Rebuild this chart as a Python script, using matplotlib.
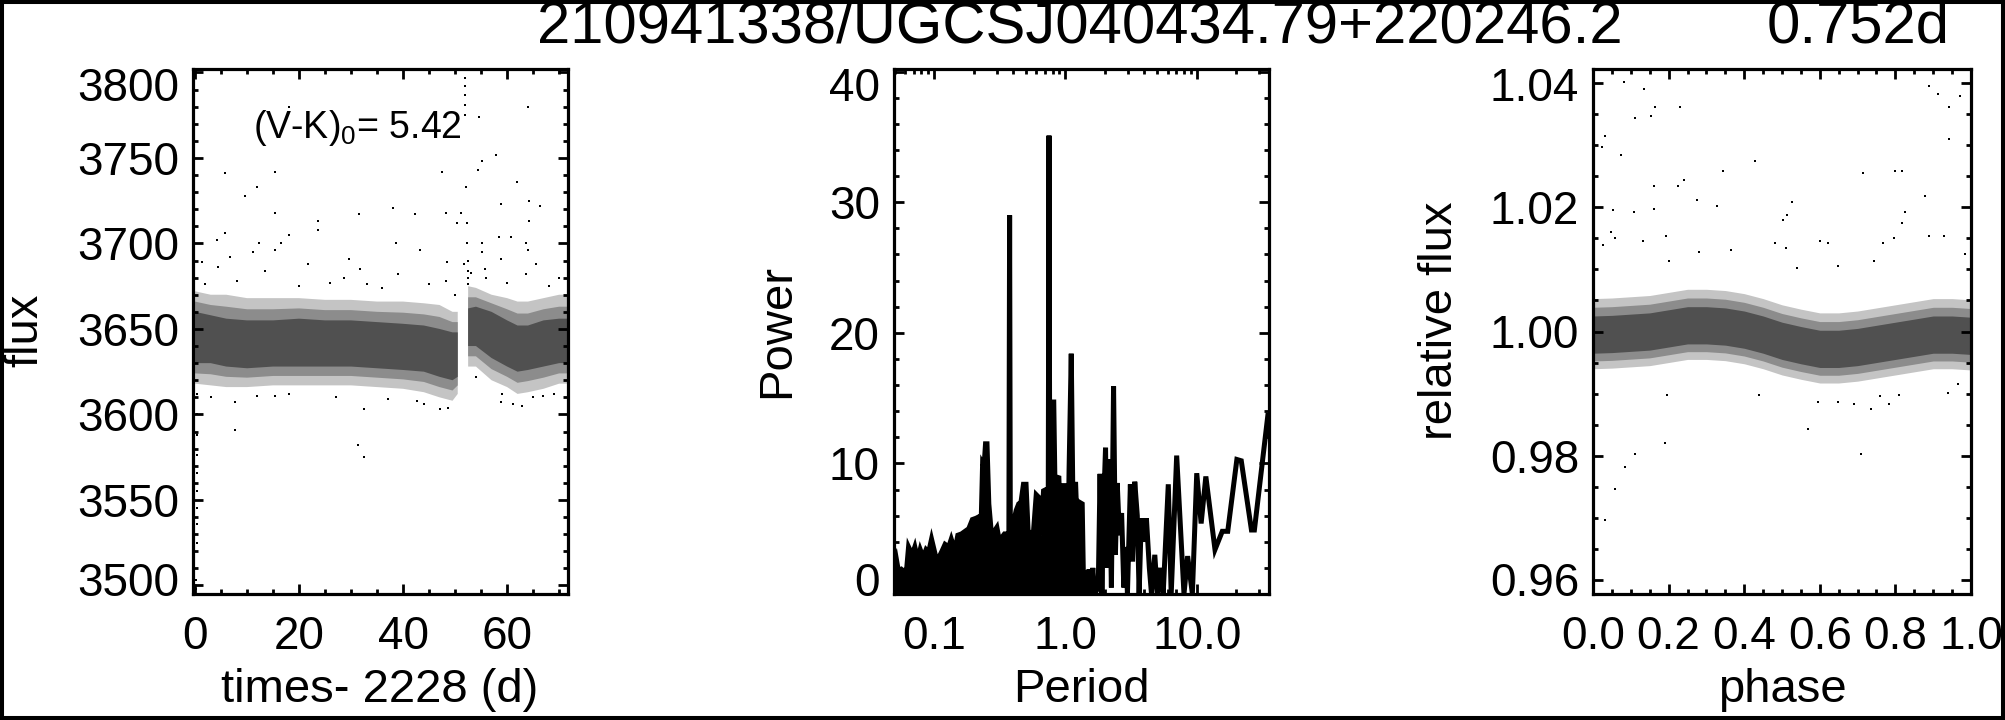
import numpy as np
import matplotlib
matplotlib.use("Agg")
import matplotlib.pyplot as plt
from matplotlib.ticker import MultipleLocator, FixedLocator, FixedFormatter, LogLocator, NullFormatter
from matplotlib.patches import Rectangle

plt.rcParams['font.family'] = ['Liberation Sans', 'DejaVu Sans']
plt.rcParams['mathtext.fontset'] = 'custom'
plt.rcParams['mathtext.rm'] = 'Liberation Sans'
plt.rcParams['mathtext.it'] = 'Liberation Sans'

# ---------------- text ----------------
title_id = "210941338/UGCSJ040434.79+220246.2"
title_period = "0.752d"
color_index_text = "(V-K)$_0$= 5.42"

# ---------------- left panel: light curve ----------------
nan = np.nan
t_band = [0.0, 3, 6, 10, 15, 20, 25, 30, 35, 40, 44, 47, 49.5, 50.5, 51.5, 52.5, 54, 57, 60, 62, 64, 67, 70, 71.7]
core_hi = [3660, 3658, 3656, 3655, 3655, 3656, 3655, 3655, 3654, 3653, 3652, 3650, 3648, 3648, nan, 3662, 3663, 3660, 3655, 3652, 3652, 3655, 3656, 3656]
core_lo = [3630, 3630, 3628, 3627, 3628, 3628, 3628, 3628, 3627, 3626, 3625, 3622, 3620, 3622, nan, 3640, 3640, 3633, 3628, 3625, 3626, 3628, 3630, 3630]
outer_hi = [3672, 3670, 3670, 3668, 3668, 3668, 3667, 3667, 3666, 3666, 3665, 3664, 3660, 3660, nan, 3675, 3674, 3670, 3668, 3666, 3666, 3668, 3670, 3670]
outer_lo = [3618, 3617, 3616, 3616, 3617, 3617, 3617, 3617, 3616, 3615, 3613, 3610, 3608, 3612, nan, 3628, 3628, 3620, 3616, 3612, 3613, 3615, 3618, 3618]

t_pts = [18.1, 54.5, 64.1, 5.8, 15.4, 11.9, 9.6, 57.9, 55.2, 54.4, 47.5, 61.9, 64.2, 66.3, 58.9, 15.4, 38.1, 31.5,
         42.3, 48.3, 51.2, 50.4, 64.2, 23.6, 23.6, 18.1, 5.8, 4.3, 6.7, 12.3, 15.4, 16.6, 38.7, 43.3, 55.2, 55.2,
         58.5, 60.8, 63.7, 64.1, 65.6, 48.5, 58.9, 29.6, 21.7, 1.3, 4.4, 11.2, 13.5, 39.0, 51.7, 55.8, 31.7, 63.7,
         28.6, 48.3,
         58.9, 61.2, 62.9, 66.9, 15.4, 7.7, 7.7, 32.4, 42.7, 31.3, 32.4,
         51.9, 51.9, 51.9, 51.9, 51.9, 51.9, 52.0, 52.2, 52.3, 52.4, 52.4, 52.5, 52.5,
         0.3, 0.3, 0.3, 0.3, 0.3, 0.3, 0.3, 0.3, 0.3, 0.2, 0.2,
         2, 8, 20, 26, 33, 36, 45, 50, 53, 56, 60, 68, 70,
         3, 12, 18, 27, 37, 44, 47, 48.7, 54, 59, 65, 69]
f_pts = [3780, 3774, 3780, 3741, 3742, 3733, 3728, 3752, 3748, 3743, 3742, 3736, 3725, 3722, 3723, 3718, 3721, 3717,
         3717, 3718, 3718, 3712, 3713, 3713, 3708, 3705, 3706, 3702, 3692, 3700, 3696, 3700, 3700, 3696, 3700, 3695,
         3704, 3704, 3700, 3696, 3688, 3689, 3691, 3691, 3688, 3689, 3686, 3695, 3684, 3682, 3688, 3685, 3685, 3682,
         3680, 3678,
         3607, 3606, 3605, 3611, 3611, 3607, 3591, 3603, 3608, 3582, 3575,
         3802, 3797, 3792, 3787, 3781, 3775, 3733, 3712, 3700, 3690, 3684, 3680, 3676,
         3612, 3600, 3588, 3576, 3566, 3555, 3545, 3536, 3525, 3503, 3498,
         3676, 3678, 3675, 3677, 3676, 3674, 3676, 3670, 3683, 3680, 3677, 3675, 3680,
         3610, 3611, 3612, 3610, 3609, 3606, 3603, 3604, 3622, 3612, 3610, 3612]

# ---------------- middle panel: periodogram ----------------
period = [0.0495, 0.0511, 0.0534, 0.0562, 0.0592, 0.0619, 0.0639, 0.0681, 0.0713, 0.0750, 0.0784, 0.0825,
          0.0869, 0.0909, 0.0956, 0.1032, 0.1101, 0.1151, 0.1212, 0.1292, 0.1351, 0.1440, 0.1516, 0.1616,
          0.1722, 0.1836, 0.1957, 0.2087, 0.2183, 0.2268, 0.2341, 0.2402, 0.2464, 0.2528, 0.2610, 0.2748,
          0.2873, 0.3005, 0.3122, 0.3265, 0.3436, 0.3594, 0.3710, 0.3758, 0.3806, 0.3905, 0.4032, 0.4217,
          0.4410, 0.4582, 0.4792, 0.5012, 0.5208, 0.5446, 0.5695, 0.5995, 0.6269, 0.6515, 0.6813, 0.7124,
          0.7403, 0.7499, 0.7595, 0.7743, 0.8149, 0.8306, 0.8913, 0.9261, 0.9563, 1.0129, 1.0392, 1.0661,
          1.1076, 1.1364, 1.1962, 1.2349,
          1.259, 1.291, 1.342, 1.377, 1.421, 1.468, 1.516, 1.565, 1.616, 1.668, 1.778, 1.836, 1.896, 1.957,
          2.021, 2.073, 2.154, 2.239, 2.326, 2.402, 2.480, 2.577, 2.678, 2.783, 2.873, 2.966, 3.123, 3.245,
          3.372, 3.526, 3.641, 3.782, 3.955, 4.137, 4.355, 4.524, 4.792, 5.012, 5.275, 5.551, 6.072, 6.390,
          7.033, 7.995, 8.523, 9.261, 10.0, 10.80, 11.73, 13.77, 15.65, 17.22, 20.21, 21.83, 26.10, 27.48,
          34.81]
power = [2.6, 2.9, 1.8, 1.9, 1.7, 2.0, 3.6, 3.0, 3.6, 2.6, 3.4, 2.8,
         3.4, 3.2, 4.2, 2.8, 2.9, 3.3, 3.8, 3.6, 4.2, 3.3, 4.5, 4.6,
         4.8, 5.0, 5.7, 5.8, 5.9, 4.4, 10.0, 9.8, 11.5, 11.5, 6.9, 4.3,
         4.8, 5.1, 4.2, 4.3, 4.6, 4.6, 4.5, 29.0, 4.5, 1.5, 5.5, 6.4,
         6.9, 7.0, 8.4, 8.4, 4.6, 4.7, 4.6, 7.6, 7.4, 4.5, 7.9, 8.0,
         8.0, 35.1, 8.0, 14.7, 14.7, 9.0, 8.9, 4.0, 8.3, 8.3, 1.0, 9.5,
         18.4, 8.4, 8.4, 4.4,
         0.0, 7.0, 6.9, 0.0, 1.8, 0.0, 1.9, 0.0, 2.0, 0.0, 0.5, 9.2, 0.0, 7.0,
         11.2, 2.0, 10.3, 0.5, 15.9, 3.0, 8.5, 4.5, 6.2, 0.5, 3.6, 0.0, 8.4, 2.5,
         8.6, 6.0, 0.0, 5.8, 4.0, 5.8, 2.0, 0.0, 3.0, 0.0, 2.0, 0.0, 8.4, 0.0,
         10.6, 0.0, 2.9, 0.0, 9.25, 5.4, 9.0, 3.4, 4.8, 4.8, 10.3, 10.2, 4.9, 4.9,
         13.7]
dense_limit = 1.235  # periods below this are unresolved (drawn filled)

# ---------------- right panel: phased light curve ----------------
phase_band = [0.0, 0.05, 0.1, 0.15, 0.2, 0.25, 0.3, 0.35, 0.4, 0.45, 0.5, 0.55, 0.6, 0.65, 0.7, 0.75, 0.8, 0.85, 0.9, 0.95, 1.0]
rcore_hi = [1.0025, 1.0026, 1.0028, 1.0030, 1.0035, 1.0040, 1.0040, 1.0038, 1.0033, 1.0025, 1.0015, 1.0008, 1.0002, 1.0002, 1.0005, 1.0010, 1.0015, 1.0020, 1.0025, 1.0025, 1.0023]
rcore_lo = [0.9965, 0.9966, 0.9968, 0.9970, 0.9975, 0.9980, 0.9980, 0.9978, 0.9973, 0.9965, 0.9955, 0.9948, 0.9942, 0.9942, 0.9945, 0.9950, 0.9955, 0.9960, 0.9965, 0.9965, 0.9963]
router_hi = [1.0053, 1.0054, 1.0056, 1.0058, 1.0063, 1.0068, 1.0068, 1.0066, 1.0061, 1.0053, 1.0043, 1.0036, 1.0030, 1.0030, 1.0033, 1.0038, 1.0043, 1.0048, 1.0053, 1.0053, 1.0051]
router_lo = [0.9940, 0.9941, 0.9943, 0.9945, 0.9950, 0.9955, 0.9955, 0.9953, 0.9948, 0.9940, 0.9930, 0.9923, 0.9917, 0.9917, 0.9920, 0.9925, 0.9930, 0.9935, 0.9940, 0.9940, 0.9938]

phase_pts = [0.032, 0.025, 0.082, 0.074, 0.111, 0.154, 0.135, 0.164, 0.230, 0.241, 0.225, 0.161, 0.161, 0.108,
             0.053, 0.344, 0.328, 0.275, 0.428, 0.527, 0.512, 0.502, 0.715, 0.799, 0.817, 0.878, 0.817, 0.826,
             0.889, 0.912, 0.971, 0.942, 0.942, 0.889, 0.929, 0.984, 0.027, 0.047, 0.058, 0.131, 0.193, 0.601,
             0.623, 0.767, 0.796, 0.511, 0.481, 0.365, 0.280, 0.201, 0.744, 0.648, 0.539,
             0.032, 0.058, 0.085, 0.111, 0.190, 0.569, 0.709, 0.196, 0.439, 0.595, 0.648, 0.690, 0.735, 0.783,
             0.759, 0.939, 0.810, 0.966]
rflux_pts = [1.0315, 1.0298, 1.0402, 1.0284, 1.0344, 1.0347, 1.0390, 1.0361, 1.0361, 1.0244, 1.0235, 1.0235,
             1.0198, 1.0193, 1.0195, 1.0258, 1.0203, 1.0212, 1.0274, 1.0208, 1.0188, 1.0180, 1.0255, 1.0258,
             1.0258, 1.0218, 1.0175, 1.0193, 1.0396, 1.0382, 1.0380, 1.0361, 1.0310, 1.0154, 1.0154, 1.0125,
             1.0140, 1.0160, 1.0150, 1.0146, 1.0154, 1.0146, 1.0143, 1.0143, 1.0150, 1.0134, 1.0143, 1.0131,
             1.0128, 1.0114, 1.0114, 1.0106, 1.0103,
             0.9697, 0.9747, 0.9781, 0.9803, 0.9820, 0.9843, 0.9802, 0.9898, 0.9898, 0.9886, 0.9886, 0.9883,
             0.9875, 0.9883, 0.9896, 0.9901, 0.9898, 0.9916]

# tick values / labels
left_yticks = [3500, 3550, 3600, 3650, 3700, 3750, 3800]
mid_yticks = [0, 10, 20, 30, 40]
right_yticks = [0.96, 0.98, 1.00, 1.02, 1.04]

# ---------------- figure ----------------
W, H = 2005, 720
fig = plt.figure(figsize=(W / 100, H / 100), dpi=100)
fig.patch.set_facecolor('white')

TICK_FS = 33
LAB_FS = 34

def box(x0, x1, y_top=69, y_bot=594):
    return [x0 / W, 1 - y_bot / H, (x1 - x0) / W, (y_bot - y_top) / H]

ax1 = fig.add_axes(box(193, 568))
ax2 = fig.add_axes(box(894, 1269))
ax3 = fig.add_axes(box(1593, 1971))

for ax in (ax1, ax2, ax3):
    for s in ax.spines.values():
        s.set_linewidth(2.3)
    ax.tick_params(which='both', direction='in', top=True, right=True, width=2.0,
                   labelsize=TICK_FS, colors='black', labelleft=False)
    ax.tick_params(which='major', length=7.5)
    ax.tick_params(which='minor', length=3.8)
    ax.tick_params(axis='x', pad=15)

dot = dict(ls='none', marker='s', ms=2.0, mew=0, color='black')
GREY_OUT = '#c4c4c4'
GREY_MID = '#8c8c8c'
GREY_CORE = '#505050'

def banded(ax, x, lo_out, hi_out, lo_core, hi_core):
    lo_out, hi_out = np.array(lo_out, float), np.array(hi_out, float)
    lo_core, hi_core = np.array(lo_core, float), np.array(hi_core, float)
    ax.fill_between(x, lo_out, hi_out, color=GREY_OUT, lw=0)
    ax.fill_between(x, (lo_out + lo_core) / 2, (hi_out + hi_core) / 2, color=GREY_MID, lw=0)
    ax.fill_between(x, lo_core, hi_core, color=GREY_CORE, lw=0)

# left
banded(ax1, t_band, outer_lo, outer_hi, core_lo, core_hi)
ax1.plot(t_pts, f_pts, **dot)
ax1.set_xlim(-0.4, 71.7)
ax1.set_ylim(3495, 3802)
ax1.xaxis.set_major_locator(MultipleLocator(20))
ax1.xaxis.set_minor_locator(MultipleLocator(5))
ax1.set_yticks(left_yticks)
ax1.yaxis.set_minor_locator(MultipleLocator(10))

# middle
per = np.array(period)
pw = np.array(power)
ax2.fill_between(per, 0, pw, where=per <= dense_limit, color='black', lw=0)
ax2.plot(per, pw, color='black', lw=3.6, solid_joinstyle='miter')
ax2.set_xscale('log')
ax2.set_xlim(0.0495, 35.5)
ax2.set_ylim(0, 40.2)
ax2.xaxis.set_major_locator(FixedLocator([0.1, 1.0, 10.0]))
ax2.xaxis.set_major_formatter(FixedFormatter(['0.1', '1.0', '10.0']))
ax2.xaxis.set_minor_locator(LogLocator(base=10, subs=(2, 3, 4, 5, 6, 7, 8, 9)))
ax2.xaxis.set_minor_formatter(NullFormatter())
ax2.set_yticks(mid_yticks)
ax2.yaxis.set_minor_locator(MultipleLocator(2))

# right
banded(ax3, phase_band, router_lo, router_hi, rcore_lo, rcore_hi)
ax3.plot(phase_pts, rflux_pts, **dot)
ax3.set_xlim(0, 1)
ax3.set_ylim(0.9577, 1.0423)
ax3.xaxis.set_major_locator(FixedLocator([0.0, 0.2, 0.4, 0.6, 0.8, 1.0]))
ax3.xaxis.set_major_formatter(FixedFormatter(['0.0', '0.2', '0.4', '0.6', '0.8', '1.0']))
ax3.xaxis.set_minor_locator(MultipleLocator(0.05))
ax3.set_yticks(right_yticks)
ax3.yaxis.set_minor_locator(MultipleLocator(0.005))

# y tick labels: kept inside the vertical extent of the axes box (as in the original plot)
def ylabels(ax, ticks, fmt, pad=14, half=15):
    x0 = ax.transAxes.transform((0, 0))[0]
    y_bot = ax.transAxes.transform((0, 0))[1]
    y_top = ax.transAxes.transform((0, 1))[1]
    for v in ticks:
        y = ax.transData.transform((ax.get_xlim()[0], v))[1]
        y = min(max(y, y_bot + half), y_top - half)
        fig.text((x0 - pad) / W, y / H, fmt.format(v), ha='right', va='center_baseline',
                 fontsize=TICK_FS)

ylabels(ax1, left_yticks, "{:.0f}")
ylabels(ax2, mid_yticks, "{:.0f}")
ylabels(ax3, right_yticks, "{:.2f}")

# text in pixel coordinates (from top-left)
def ptext(x, y, s, **kw):
    fig.text(x / W, 1 - y / H, s, **kw)

ptext(253, 128, color_index_text, fontsize=27, ha='left', va='center')

ptext(380, 690, "times- 2228 (d)", fontsize=LAB_FS, ha='center', va='center')
ptext(1081, 690, "Period", fontsize=LAB_FS, ha='center', va='center')
ptext(1782, 690, "phase", fontsize=LAB_FS, ha='center', va='center')
ptext(25, 330, "flux", fontsize=LAB_FS, ha='center', va='center', rotation=90)
ptext(777, 331, "Power", fontsize=LAB_FS, ha='center', va='center', rotation=90)
ptext(1440, 321, "relative flux", fontsize=LAB_FS, ha='center', va='center', rotation=90)

# title
ptext(537, 27, title_id, fontsize=43, ha='left', va='center')
ptext(1950, 27, title_period, fontsize=43, ha='right', va='center')

# frame around figure
fig.add_artist(Rectangle((0, 0), 1, 1, transform=fig.transFigure, fill=False,
                         edgecolor='black', lw=5.8, clip_on=False))

fig.savefig('out.png', dpi=100, facecolor='white')
